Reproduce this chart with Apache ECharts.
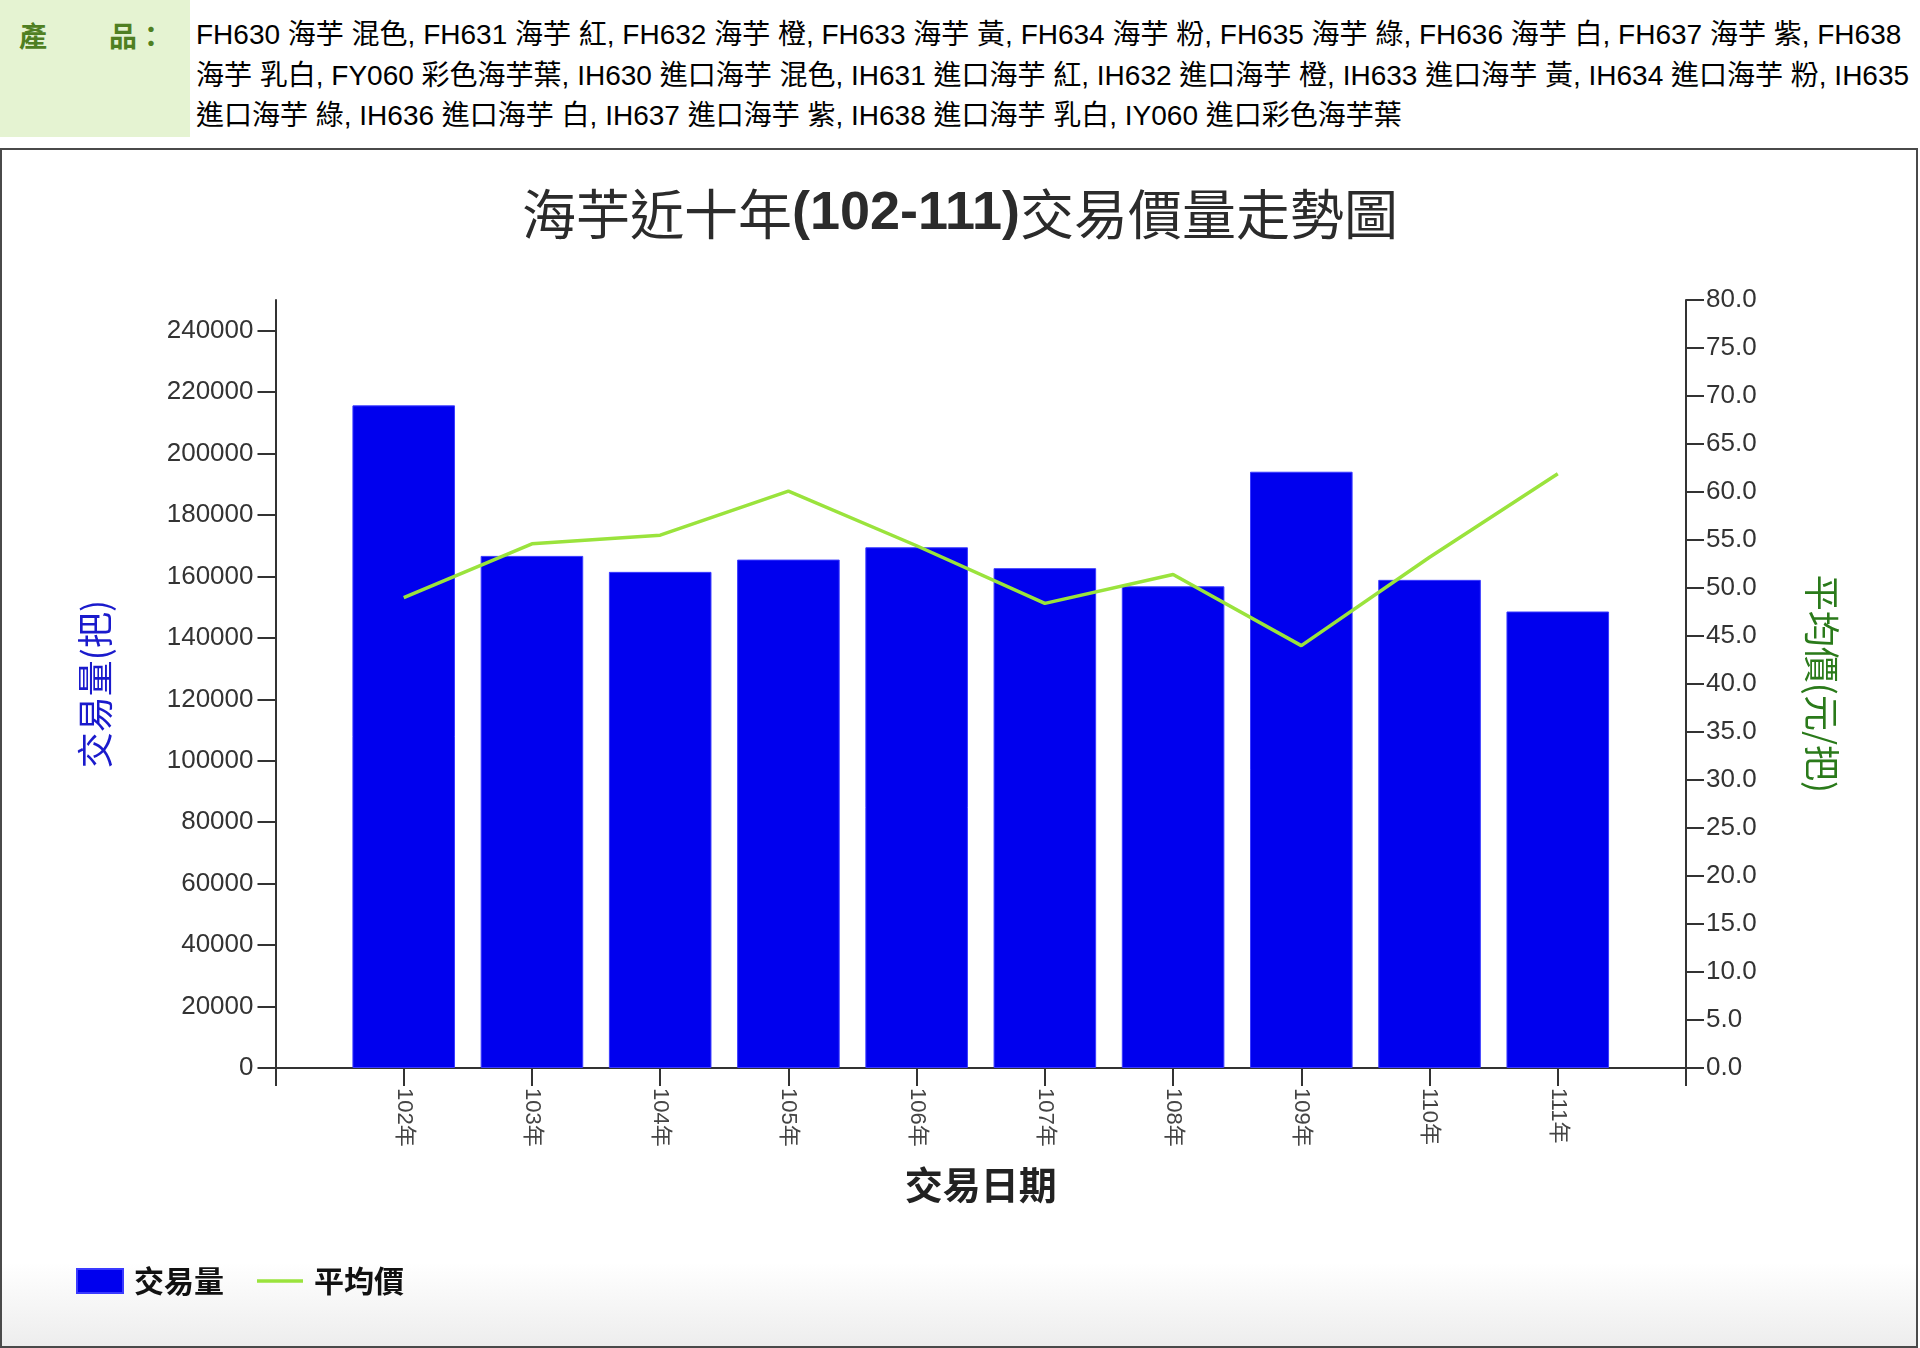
<!DOCTYPE html>
<html>
<head>
<meta charset="utf-8">
<script src="https://cdn.jsdelivr.net/npm/echarts@6/dist/echarts.min.js"></script>
<style>
  html, body { margin:0; padding:0; width:1920px; height:1348px; background:#fff; overflow:hidden; }
  #hdrLabel { position:absolute; left:0; top:0; width:190px; height:137px; background:#e5f3d2; }
  #hdrLabel span.l { position:absolute; left:19px; top:15px; font:bold 28px "Noto Sans CJK TC", sans-serif; color:#4f7f22; white-space:nowrap; }
  #hdrLabel span.gap { display:inline-block; width:62px; }
  #hdrText { position:absolute; left:196px; top:15px; font:28px "Liberation Sans", "Noto Sans CJK TC", sans-serif; line-height:40.5px; color:#000; white-space:nowrap; }
  #frame { position:absolute; left:0; top:148px; width:1914px; height:1196px; border:2px solid #4a4a4a;
           background:linear-gradient(to bottom, #ffffff 0%, #ffffff 93%, #ededed 100%); }
  #chart { position:absolute; left:0; top:0; width:1920px; height:1348px; }
</style>
</head>
<body>
<div id="hdrLabel"><span class="l">產<span class="gap"></span>品：</span></div>
<div id="hdrText">FH630 海芋 混色, FH631 海芋 紅, FH632 海芋 橙, FH633 海芋 黃, FH634 海芋 粉, FH635 海芋 綠, FH636 海芋 白, FH637 海芋 紫, FH638<br>海芋 乳白, FY060 彩色海芋葉, IH630 進口海芋 混色, IH631 進口海芋 紅, IH632 進口海芋 橙, IH633 進口海芋 黃, IH634 進口海芋 粉, IH635<br>進口海芋 綠, IH636 進口海芋 白, IH637 進口海芋 紫, IH638 進口海芋 乳白, IY060 進口彩色海芋葉</div>
<div id="frame"></div>
<div id="chart"></div>
<script>
// ---- data ----
const years = ['102年','103年','104年','105年','106年','107年','108年','109年','110年','111年'];
const volume = [215700, 166700, 161500, 165500, 169500, 162700, 156800, 194100, 158900, 148600];
const avgPrice = [49.0, 54.6, 55.5, 60.1, 54.4, 48.4, 51.4, 44.0, 53.2, 61.9];
const leftTicks = [0,20000,40000,60000,80000,100000,120000,140000,160000,180000,200000,220000,240000];
const rightTicks = [0,5,10,15,20,25,30,35,40,45,50,55,60,65,70,75,80];

// padded category slots (one empty slot on each side)
const cats = [''].concat(years, ['']);
const volData = [null].concat(volume, [null]);
const priceData = [null].concat(avgPrice, [null]);

const chart = echarts.init(document.getElementById('chart'), null, {renderer:'canvas'});
const axisCol = '#333';
const cjk = '"Noto Sans CJK TC", sans-serif';
const lblFont = '"Liberation Sans", "Noto Sans CJK TC", sans-serif';
chart.setOption({
  backgroundColor: 'transparent',
  animation: false,
  title: {
    text: '海芋近十年{b|(102-111)}交易價量走勢圖',
    left: 'center', top: 182,
    textStyle: { fontSize: 54, fontWeight: 'normal', color: '#2b2b2b', fontFamily: cjk,
      rich: { b: { fontSize: 54, fontWeight: 'bold', color: '#2b2b2b', fontFamily: lblFont } } }
  },
  grid: { left: 275.5, right: 234, top: 300, bottom: 280, containLabel: false },
  legend: {
    left: 71, top: 1261, itemWidth: 46, itemHeight: 24, itemGap: 33,
    textStyle: { fontSize: 30, fontWeight: 'bold', color: '#111', fontFamily: cjk, padding:[0,0,0,6] },
    data: [
      { name: '交易量', icon: 'rect' },
      { name: '平均價', icon: 'path://M0,0 L100,0 L100,8 L0,8 Z' }
    ]
  },
  xAxis: {
    type: 'category', data: cats, boundaryGap: false,
    name: '交易日期', nameLocation: 'middle', nameGap: 98,
    nameTextStyle: { fontSize: 38, fontWeight: 'bold', color: '#222', fontFamily: cjk },
    axisLine: { lineStyle: { color: axisCol, width: 2 } },
    axisTick: { show: true, length: 18, inside: false, alignWithLabel: true, interval: 0, lineStyle: { color: axisCol, width: 2 } },
    axisLabel: { rotate: -90, margin: 20, interval: 0, fontSize: 22, color: '#444', fontFamily: lblFont },
    splitLine: { show: false }
  },
  yAxis: [
    {
      type: 'value', min: 0, max: 250000, position: 'left',
      name: '交易量(把)', nameLocation: 'middle', nameGap: 162,
      nameTextStyle: { fontSize: 36, color: '#1a1acc', fontFamily: cjk },
      axisLine: { show: true, lineStyle: { color: axisCol, width: 2 } },
      axisTick: { show: true, length: 18, customValues: leftTicks, lineStyle: { color: axisCol, width: 2 } },
      axisLabel: { customValues: leftTicks, margin: 22, fontSize: 26, color: '#333', fontFamily: lblFont,
                   formatter: v => String(v) },
      splitLine: { show: false }
    },
    {
      type: 'value', min: 0, max: 80, interval: 5, position: 'right',
      name: '平均價(元/把)', nameLocation: 'middle', nameGap: 118, nameRotate: -90,
      nameTextStyle: { fontSize: 36, color: '#2a7a1a', fontFamily: cjk },
      axisLine: { show: true, lineStyle: { color: axisCol, width: 2 } },
      axisTick: { show: true, length: 18, customValues: rightTicks, lineStyle: { color: axisCol, width: 2 } },
      axisLabel: { customValues: rightTicks, margin: 20, fontSize: 26, color: '#333', fontFamily: lblFont,
                   formatter: v => Number(v).toFixed(1) },
      splitLine: { show: false }
    }
  ],
  series: [
    { name: '交易量', type: 'bar', data: volData, yAxisIndex: 0, barWidth: '80%',
      itemStyle: { color: '#0000ee', borderColor: '#3a3aff', borderWidth: 1 } },
    { name: '平均價', type: 'line', data: priceData, yAxisIndex: 1, symbol: 'none', connectNulls: false,
      lineStyle: { color: '#9ae33c', width: 3.5 }, itemStyle: { color: '#9ae33c' } }
  ]
});
</script>
</body>
</html>
